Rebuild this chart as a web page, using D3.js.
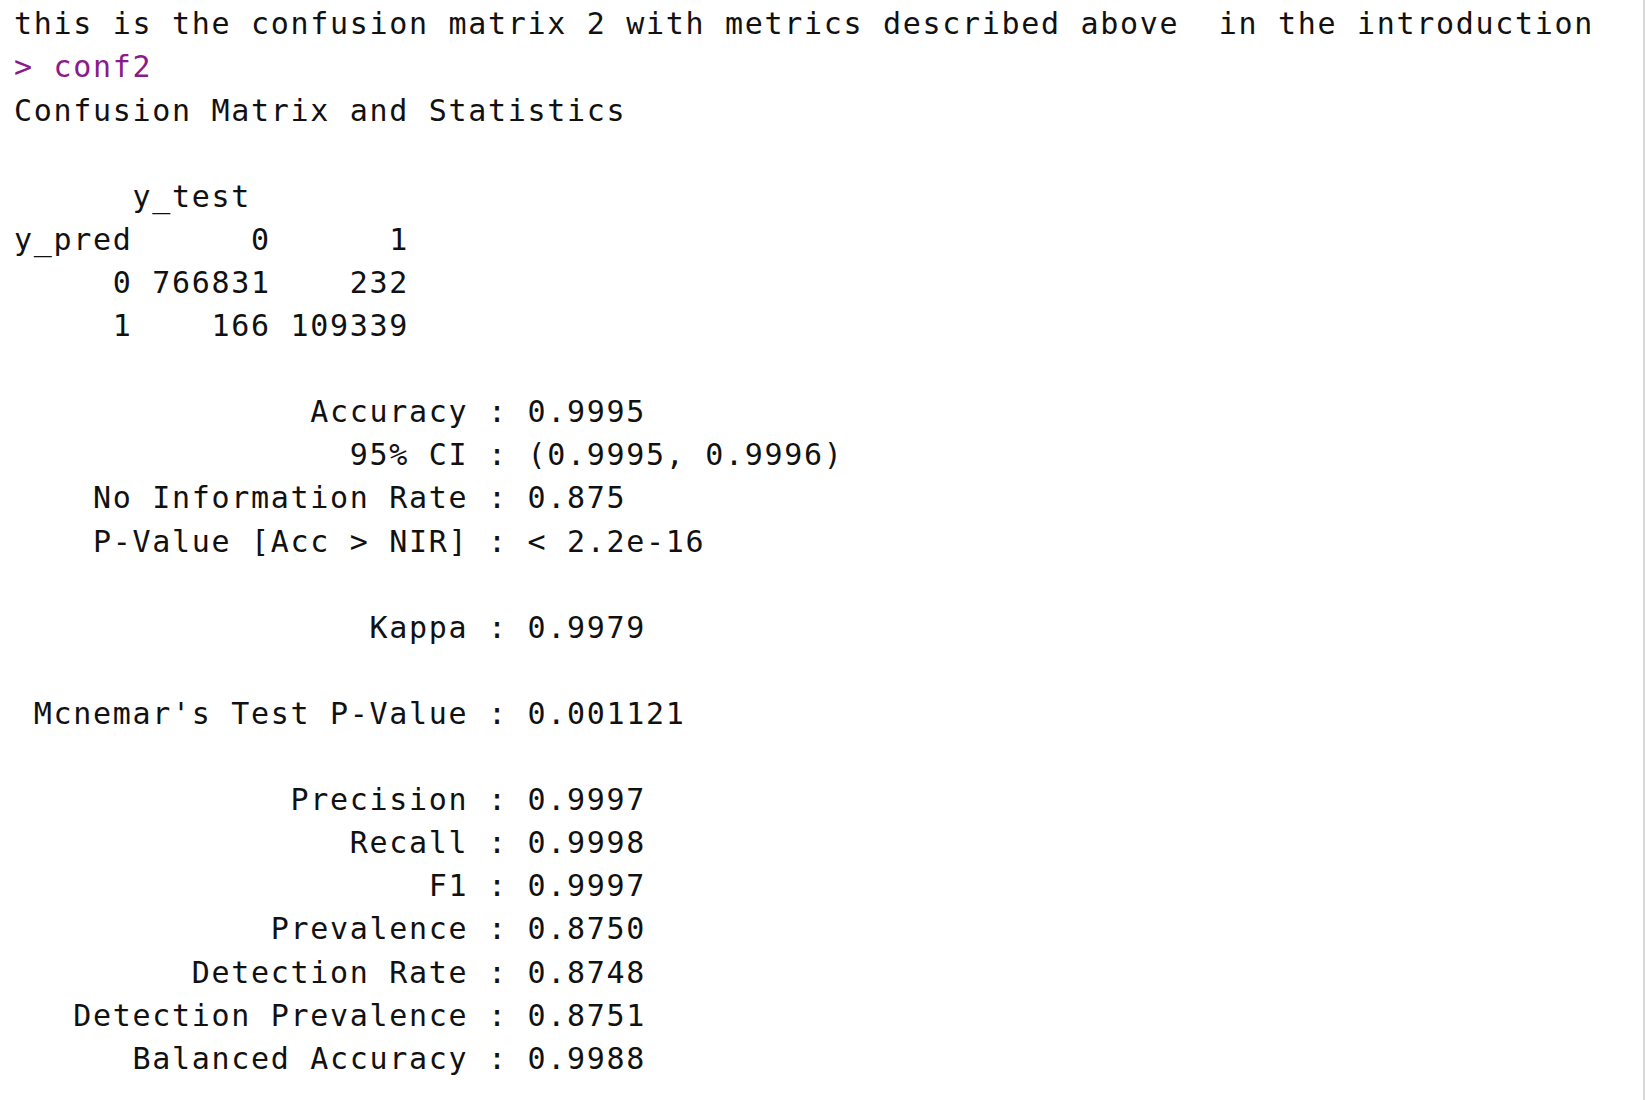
<!DOCTYPE html>
<html><head><meta charset="utf-8">
<script src="https://cdn.jsdelivr.net/npm/d3@7"></script>
<style>body{margin:0;background:#fff}</style>
</head><body>
<script>
// console lines, one per row (empty string = blank row)
var introLine = "this is the confusion matrix 2 with metrics described above  in the introduction";
var promptLine = "> conf2";
var matrixLines = [
  "Confusion Matrix and Statistics",
  "",
  "      y_test",
  "y_pred      0      1",
  "     0 766831    232",
  "     1    166 109339",
  ""
];
var statLabels = ["Accuracy", "95% CI", "No Information Rate", "P-Value [Acc > NIR]", "",
  "Kappa", "", "Mcnemar's Test P-Value", "",
  "Precision", "Recall", "F1", "Prevalence", "Detection Rate", "Detection Prevalence", "Balanced Accuracy"];
var statValues = ["0.9995", "(0.9995, 0.9996)", "0.875", "< 2.2e-16", "",
  "0.9979", "", "0.001121", "",
  "0.9997", "0.9998", "0.9997", "0.8750", "0.8748", "0.8751", "0.9988"];

var width = 1647, height = 1100;

var lines = [introLine, promptLine].concat(matrixLines);
statLabels.forEach(function(l, i) {
  if (l === "") lines.push("");
  else lines.push(" ".repeat(23 - l.length) + l + " : " + statValues[i]);
});

var y = d3.scaleLinear().domain([0, 1]).range([23.5, 66.6]); // row centre
var charW = 19.75, fontSize = 30;

var svg = d3.select("body").append("svg")
    .attr("width", width).attr("height", height);

svg.append("line")
    .attr("x1", 1644).attr("x2", 1644).attr("y1", 0).attr("y2", height)
    .attr("stroke", "#d8d8d8").attr("stroke-width", 2);

svg.selectAll("text.row").data(lines).join("text")
    .attr("class", "row")
    .attr("x", 14)
    .attr("y", function(d, i) { return y(i); })
    .attr("dy", "0.36em")
    .attr("xml:space", "preserve")
    .style("white-space", "pre")
    .attr("font-family", "'DejaVu Sans Mono', monospace")
    .attr("font-size", fontSize)
    .attr("letter-spacing", charW - fontSize * 0.602)
    .attr("fill", function(d, i) { return i === 1 ? "#8b1a8b" : "#111"; })
    .text(function(d) { return d; });
</script>
</body></html>
